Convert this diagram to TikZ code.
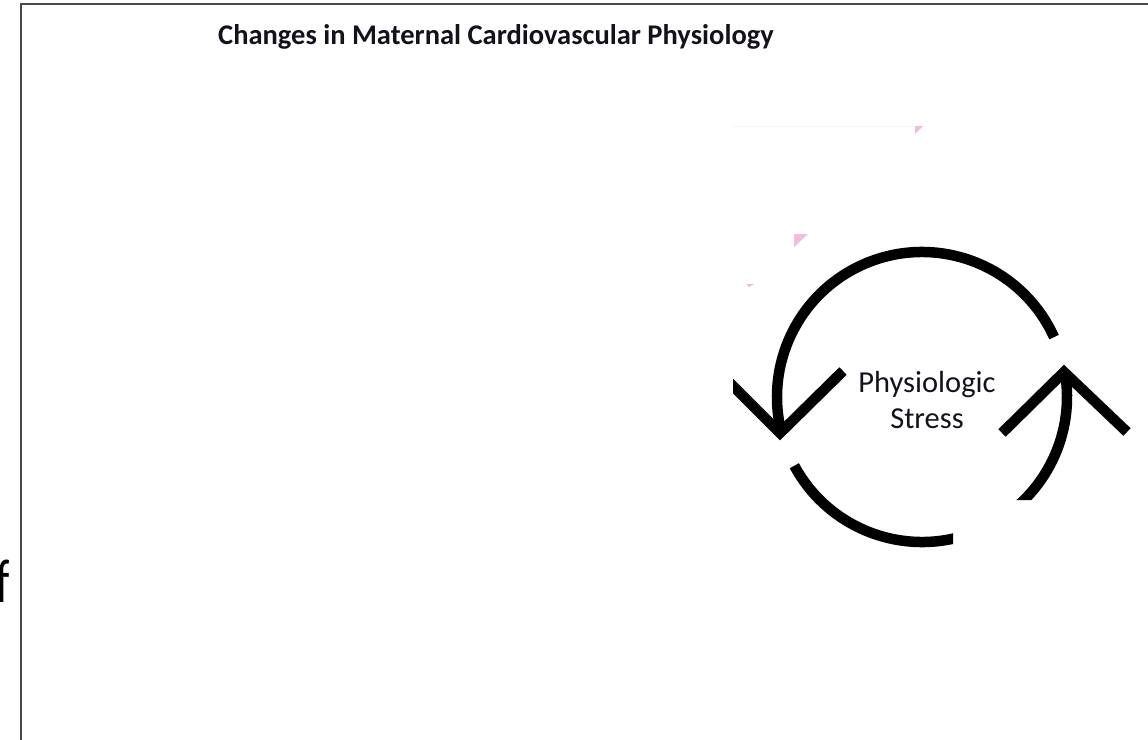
\documentclass[tikz,border=0pt]{standalone}
\usepackage{fontspec}
\setmainfont{Carlito}
\definecolor{pinkmark}{RGB}{243,186,226}
\definecolor{faintline}{RGB}{250,242,246}
\definecolor{framegray}{RGB}{72,72,72}
\definecolor{inkdark}{RGB}{18,18,28}
\begin{document}
\begin{tikzpicture}[x=1pt,y=-1pt,
  arcline/.style={line width=10.5pt, draw=black},
  headline/.style={line width=10.5pt, draw=black, line join=miter, miter limit=10},
  pinktri/.style={fill=pinkmark, draw=none},
  framestyle/.style={draw=framegray, line width=2.2pt},
  titlestyle/.style={font=\bfseries\fontsize{28.5}{33}\selectfont, text=inkdark, inner sep=0pt},
  lbl/.style={font=\fontsize{30.5}{36}\selectfont, text=inkdark, align=center, inner sep=0pt},
]
\useasboundingbox (0,0) rectangle (1148,739);
\clip (0,0) rectangle (1148,739);
% frame
\draw[framestyle] (1160,4) -- (21,4) -- (21,760);
% stray letter at the left edge
\node[anchor=base west, inner sep=0pt, font=\fontsize{62}{62}\selectfont, text=black] (fletter) at (-3.5,602) {\scalebox{0.7}[1]{f}};
% title
\node[titlestyle, anchor=base west] (title) at (218,44) {Changes in Maternal Cardiovascular Physiology};
% faint line and pink marks
\draw[faintline, line width=1pt] (733,126) -- (915,126);
\fill[pinktri] (915,126) -- (923,126) -- (915,134) -- cycle;
\fill[pinktri] (794,234) -- (808,234) -- (794,247) -- cycle;
\fill[pinktri] (746,284) -- (754,284) -- (749,287) -- cycle;
% cycle arrows
\coordinate (c) at (922,397);
\begin{scope}
\clip (733,0) -- (1148,0) -- (1148,500) -- (953,500) -- (953,739) -- (733,739) -- cycle;
\draw[arcline] ([shift={(-24.4:145)}]c) arc[start angle=-24.4, end angle=-195, radius=145];
\draw[arcline] ([shift={(151.7:145)}]c) arc[start angle=151.7, end angle=-10, radius=145];
\coordinate (lt) at (780,433);
\coordinate (la) at (715,368);
\coordinate (lb) at (843,371);
\draw[headline] (la) -- (lt) -- (lb);
\coordinate (rt) at (1064,372);
\coordinate (ra) at (1002,433);
\coordinate (rb) at (1127,432);
\draw[headline] (ra) -- (rt) -- (rb);
\end{scope}
\node[lbl] (stress) at (927,400) {Physiologic\\Stress};
\end{tikzpicture}
\end{document}
